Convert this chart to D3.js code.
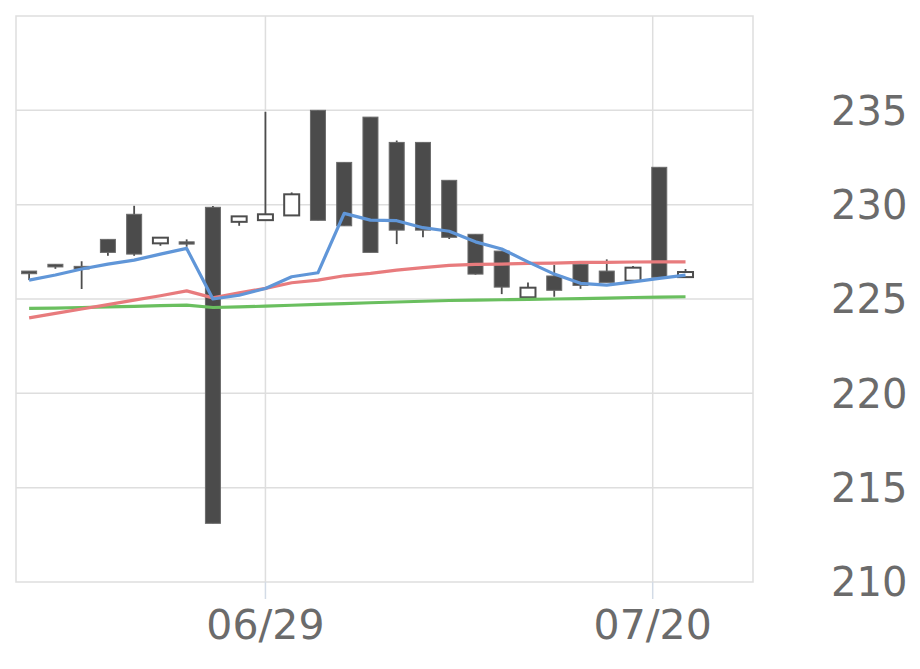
<!DOCTYPE html>
<html>
<head>
<meta charset="utf-8">
<script src="https://cdn.jsdelivr.net/npm/d3@7"></script>
<style>
  body { margin: 0; background: #fff; }
  text { font-family: 'DejaVu Sans', sans-serif; }
</style>
</head>
<body>
<svg id="viz"></svg>
<script>
const width = 920
const height = 669

const opens = [226.48, 226.84, 226.73, 228.16, 229.49, 227.95, 228.03, 229.86, 229.09, 229.18, 229.43, 235.0, 232.24, 234.64, 233.3, 233.3, 231.29, 228.43, 227.54, 225.09, 226.22, 226.84, 226.48, 225.97, 231.98, 226.16]
const highs = [226.48, 226.84, 227.0, 228.16, 229.94, 228.25, 228.16, 229.93, 229.38, 234.92, 230.65, 235.0, 232.24, 234.64, 233.4, 233.3, 231.29, 228.43, 227.54, 225.88, 226.8, 226.84, 227.1, 226.75, 231.98, 226.59]
const lows = [226.0, 226.6, 225.53, 227.29, 227.29, 227.82, 227.77, 213.11, 228.88, 229.18, 229.43, 229.17, 228.88, 227.47, 227.91, 228.27, 228.18, 226.29, 225.26, 225.09, 225.12, 225.54, 225.88, 225.97, 226.15, 226.16]
const closes = [226.34, 226.7, 226.59, 227.47, 227.38, 228.25, 227.91, 213.11, 229.38, 229.49, 230.55, 229.17, 228.88, 227.47, 228.65, 228.65, 228.27, 226.32, 225.63, 225.6, 225.46, 225.72, 225.88, 226.66, 226.15, 226.43]

const maShort = [226.0, 226.27, 226.59, 226.85, 227.06, 227.38, 227.68, 225.0, 225.2, 225.56, 226.18, 226.39, 229.54, 229.18, 229.15, 228.78, 228.59, 228.03, 227.65, 226.97, 226.32, 225.83, 225.74, 225.91, 226.09, 226.27]
const maMid = [224.0, 224.24, 224.47, 224.7, 224.94, 225.17, 225.43, 225.06, 225.33, 225.56, 225.86, 226.0, 226.23, 226.36, 226.53, 226.66, 226.78, 226.84, 226.85, 226.89, 226.9, 226.94, 226.94, 226.96, 226.97, 226.97]
const maLong = [224.5, 224.52, 224.55, 224.58, 224.61, 224.65, 224.68, 224.55, 224.58, 224.62, 224.67, 224.72, 224.76, 224.8, 224.84, 224.88, 224.92, 224.94, 224.96, 224.98, 225.0, 225.02, 225.05, 225.08, 225.1, 225.12]

const xTickLabels = ['06/29', '07/20']
const xTickIndex = [9, 23.75]
const yTicks = [210, 215, 220, 225, 230, 235]

const candles = opens.map((o, i) => ({
  i: i,
  open: o,
  high: highs[i],
  low: lows[i],
  close: closes[i],
}))

const margin = { top: 16, left: 16, right: 167, bottom: 87 }
const plotRight = width - margin.right
const plotBottom = height - margin.bottom

const x = d3.scaleLinear().domain([-0.5, 27.57]).range([margin.left, plotRight])
const y = d3.scaleLinear().domain([210, 240]).range([plotBottom, margin.top])
const bodyWidth = 15

const svg = d3.select('#viz').attr('width', width).attr('height', height)

svg
  .append('rect')
  .attr('width', width)
  .attr('height', height)
  .attr('fill', '#fff')

// grid
svg
  .append('g')
  .selectAll('line')
  .data(yTicks.filter((d) => d > 210))
  .join('line')
  .attr('x1', margin.left)
  .attr('x2', plotRight)
  .attr('y1', (d) => y(d))
  .attr('y2', (d) => y(d))
  .attr('stroke', '#dedede')
  .attr('stroke-width', 1.5)

svg
  .append('g')
  .selectAll('line')
  .data(xTickIndex)
  .join('line')
  .attr('x1', (d) => x(d))
  .attr('x2', (d) => x(d))
  .attr('y1', margin.top)
  .attr('y2', plotBottom)
  .attr('stroke', '#dedede')
  .attr('stroke-width', 1.5)

svg
  .append('rect')
  .attr('x', margin.left)
  .attr('y', margin.top)
  .attr('width', plotRight - margin.left)
  .attr('height', plotBottom - margin.top)
  .attr('fill', 'none')
  .attr('stroke', '#dedede')
  .attr('stroke-width', 1.5)

// x ticks
svg
  .append('g')
  .selectAll('line')
  .data(xTickIndex)
  .join('line')
  .attr('x1', (d) => x(d))
  .attr('x2', (d) => x(d))
  .attr('y1', plotBottom)
  .attr('y2', plotBottom + 17)
  .attr('stroke', '#d3dbe6')
  .attr('stroke-width', 1.5)

svg
  .append('g')
  .selectAll('text')
  .data(xTickLabels)
  .join('text')
  .attr('x', (d, i) => x(xTickIndex[i]))
  .attr('y', plotBottom + 57)
  .attr('text-anchor', 'middle')
  .attr('font-size', 41)
  .attr('fill', '#6b6b6b')
  .text((d) => d)

svg
  .append('g')
  .selectAll('text')
  .data(yTicks)
  .join('text')
  .attr('x', 831)
  .attr('y', (d) => y(d))
  .attr('dy', '0.36em')
  .attr('font-size', 40)
  .attr('fill', '#6b6b6b')
  .text((d) => d)

// candles
const candleG = svg.append('g')

candleG
  .selectAll('.wick')
  .data(candles)
  .join('line')
  .attr('class', 'wick')
  .attr('x1', (d) => x(d.i))
  .attr('x2', (d) => x(d.i))
  .attr('y1', (d) => y(d.high))
  .attr('y2', (d) => y(d.low))
  .attr('stroke', '#4d4d4d')
  .attr('stroke-width', 1.8)

candleG
  .selectAll('.body')
  .data(candles)
  .join('rect')
  .attr('class', 'body')
  .attr('x', (d) => x(d.i) - bodyWidth / 2)
  .attr('width', bodyWidth)
  .attr('y', (d) => y(Math.max(d.open, d.close)))
  .attr('height', (d) => Math.max(2, Math.abs(y(d.open) - y(d.close))))
  .attr('fill', (d) => (d.close >= d.open ? '#fff' : '#4b4b4b'))
  .attr('stroke', (d) => (d.close >= d.open ? '#4d4d4d' : '#6a6a6a'))
  .attr('stroke-width', (d) => (d.close >= d.open ? 2 : 1))

// moving averages
const line = d3
  .line()
  .x((d, i) => x(i))
  .y((d) => y(d))

const maSeries = [
  { values: maLong, color: '#6abf5f' },
  { values: maMid, color: '#e87b7d' },
  { values: maShort, color: '#6096d8' },
]

svg
  .append('g')
  .selectAll('path')
  .data(maSeries)
  .join('path')
  .attr('d', (d) => line(d.values))
  .attr('fill', 'none')
  .attr('stroke', (d) => d.color)
  .attr('stroke-width', 3.2)
  .attr('stroke-linejoin', 'round')
</script>
</body>
</html>
